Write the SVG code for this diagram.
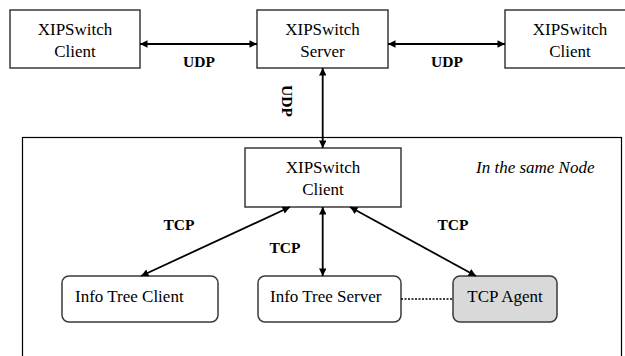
<svg xmlns="http://www.w3.org/2000/svg" width="625" height="356" viewBox="0 0 625 356">
  <style>
    .box { fill: #ffffff; stroke: #3a3a3a; stroke-width: 1.5; }
    .agent { fill: #d9d9d9; stroke: #3a3a3a; stroke-width: 1.5; }
    .frame { fill: none; stroke: #000000; stroke-width: 1.2; }
    .lbl { font-family: "Liberation Serif", "Times New Roman", serif; font-size: 17px; fill: #000; }
    .mid { text-anchor: middle; }
    .proto { font-family: "Liberation Serif", "Times New Roman", serif; font-size: 15.5px; font-weight: bold; fill: #000; text-anchor: middle; }
    .note { font-family: "Liberation Serif", "Times New Roman", serif; font-size: 17px; font-style: italic; fill: #000; }
    .link { stroke: #000; stroke-width: 1.8; fill: none; marker-start: url(#head); marker-end: url(#head); }
    .dots { stroke: #000; stroke-width: 1.5; stroke-dasharray: 2 1.5; fill: none; }
  </style>
  <defs>
    <marker id="head" viewBox="0 0 10 10" refX="10" refY="5" markerWidth="8" markerHeight="7.5" markerUnits="userSpaceOnUse" orient="auto-start-reverse">
      <path d="M0,0 L10,5 L0,10 z" fill="#000"/>
    </marker>
  </defs>

  <!-- local node frame -->
  <g id="node-frame">
    <rect class="frame" x="22.5" y="137.5" width="599" height="240"/>
    <text class="note" x="476" y="173">In the same Node</text>
  </g>

  <g id="client-left">
    <rect class="box" x="10" y="10" width="130" height="58"/>
    <text class="lbl mid" x="75" y="34.5">XIPSwitch</text>
    <text class="lbl mid" x="75" y="56.5">Client</text>
  </g>

  <g id="server">
    <rect class="box" x="257" y="10" width="131" height="58"/>
    <text class="lbl mid" x="322.5" y="34.5">XIPSwitch</text>
    <text class="lbl mid" x="322.5" y="56.5">Server</text>
  </g>

  <g id="client-right">
    <rect class="box" x="505" y="10" width="130" height="58"/>
    <text class="lbl mid" x="570" y="34.5">XIPSwitch</text>
    <text class="lbl mid" x="570" y="56.5">Client</text>
  </g>

  <g id="client-local">
    <rect class="box" x="245" y="148" width="156" height="59"/>
    <text class="lbl mid" x="323" y="172.5">XIPSwitch</text>
    <text class="lbl mid" x="323" y="195">Client</text>
  </g>

  <g id="info-tree-client">
    <rect class="box" x="62" y="276" width="156" height="46" rx="7"/>
    <text class="lbl" x="75" y="302">Info Tree Client</text>
  </g>

  <g id="info-tree-server">
    <rect class="box" x="258" y="276" width="143" height="46" rx="7"/>
    <text class="lbl" x="270" y="302">Info Tree Server</text>
  </g>

  <g id="tcp-agent">
    <rect class="agent" x="453" y="276" width="104" height="46" rx="7"/>
    <text class="lbl mid" x="505" y="302">TCP Agent</text>
  </g>

  <g id="connectors">
    <line class="link" x1="140" y1="44" x2="257" y2="44"/>
    <line class="link" x1="388" y1="44" x2="505" y2="44"/>
    <line class="link" x1="322.7" y1="68" x2="322.7" y2="148"/>
    <line class="link" x1="290" y1="207" x2="141" y2="276"/>
    <line class="link" x1="322.7" y1="207" x2="322.7" y2="276"/>
    <line class="link" x1="350" y1="207" x2="476" y2="276"/>
    <line class="dots" x1="401" y1="299" x2="453" y2="299"/>

    <text class="proto" x="199" y="67">UDP</text>
    <text class="proto" x="447" y="67">UDP</text>
    <text class="proto" transform="translate(281.5,101) rotate(90)" x="0" y="0">UDP</text>
    <text class="proto" x="179" y="230">TCP</text>
    <text class="proto" x="285" y="252.5">TCP</text>
    <text class="proto" x="453" y="230">TCP</text>
  </g>
</svg>
